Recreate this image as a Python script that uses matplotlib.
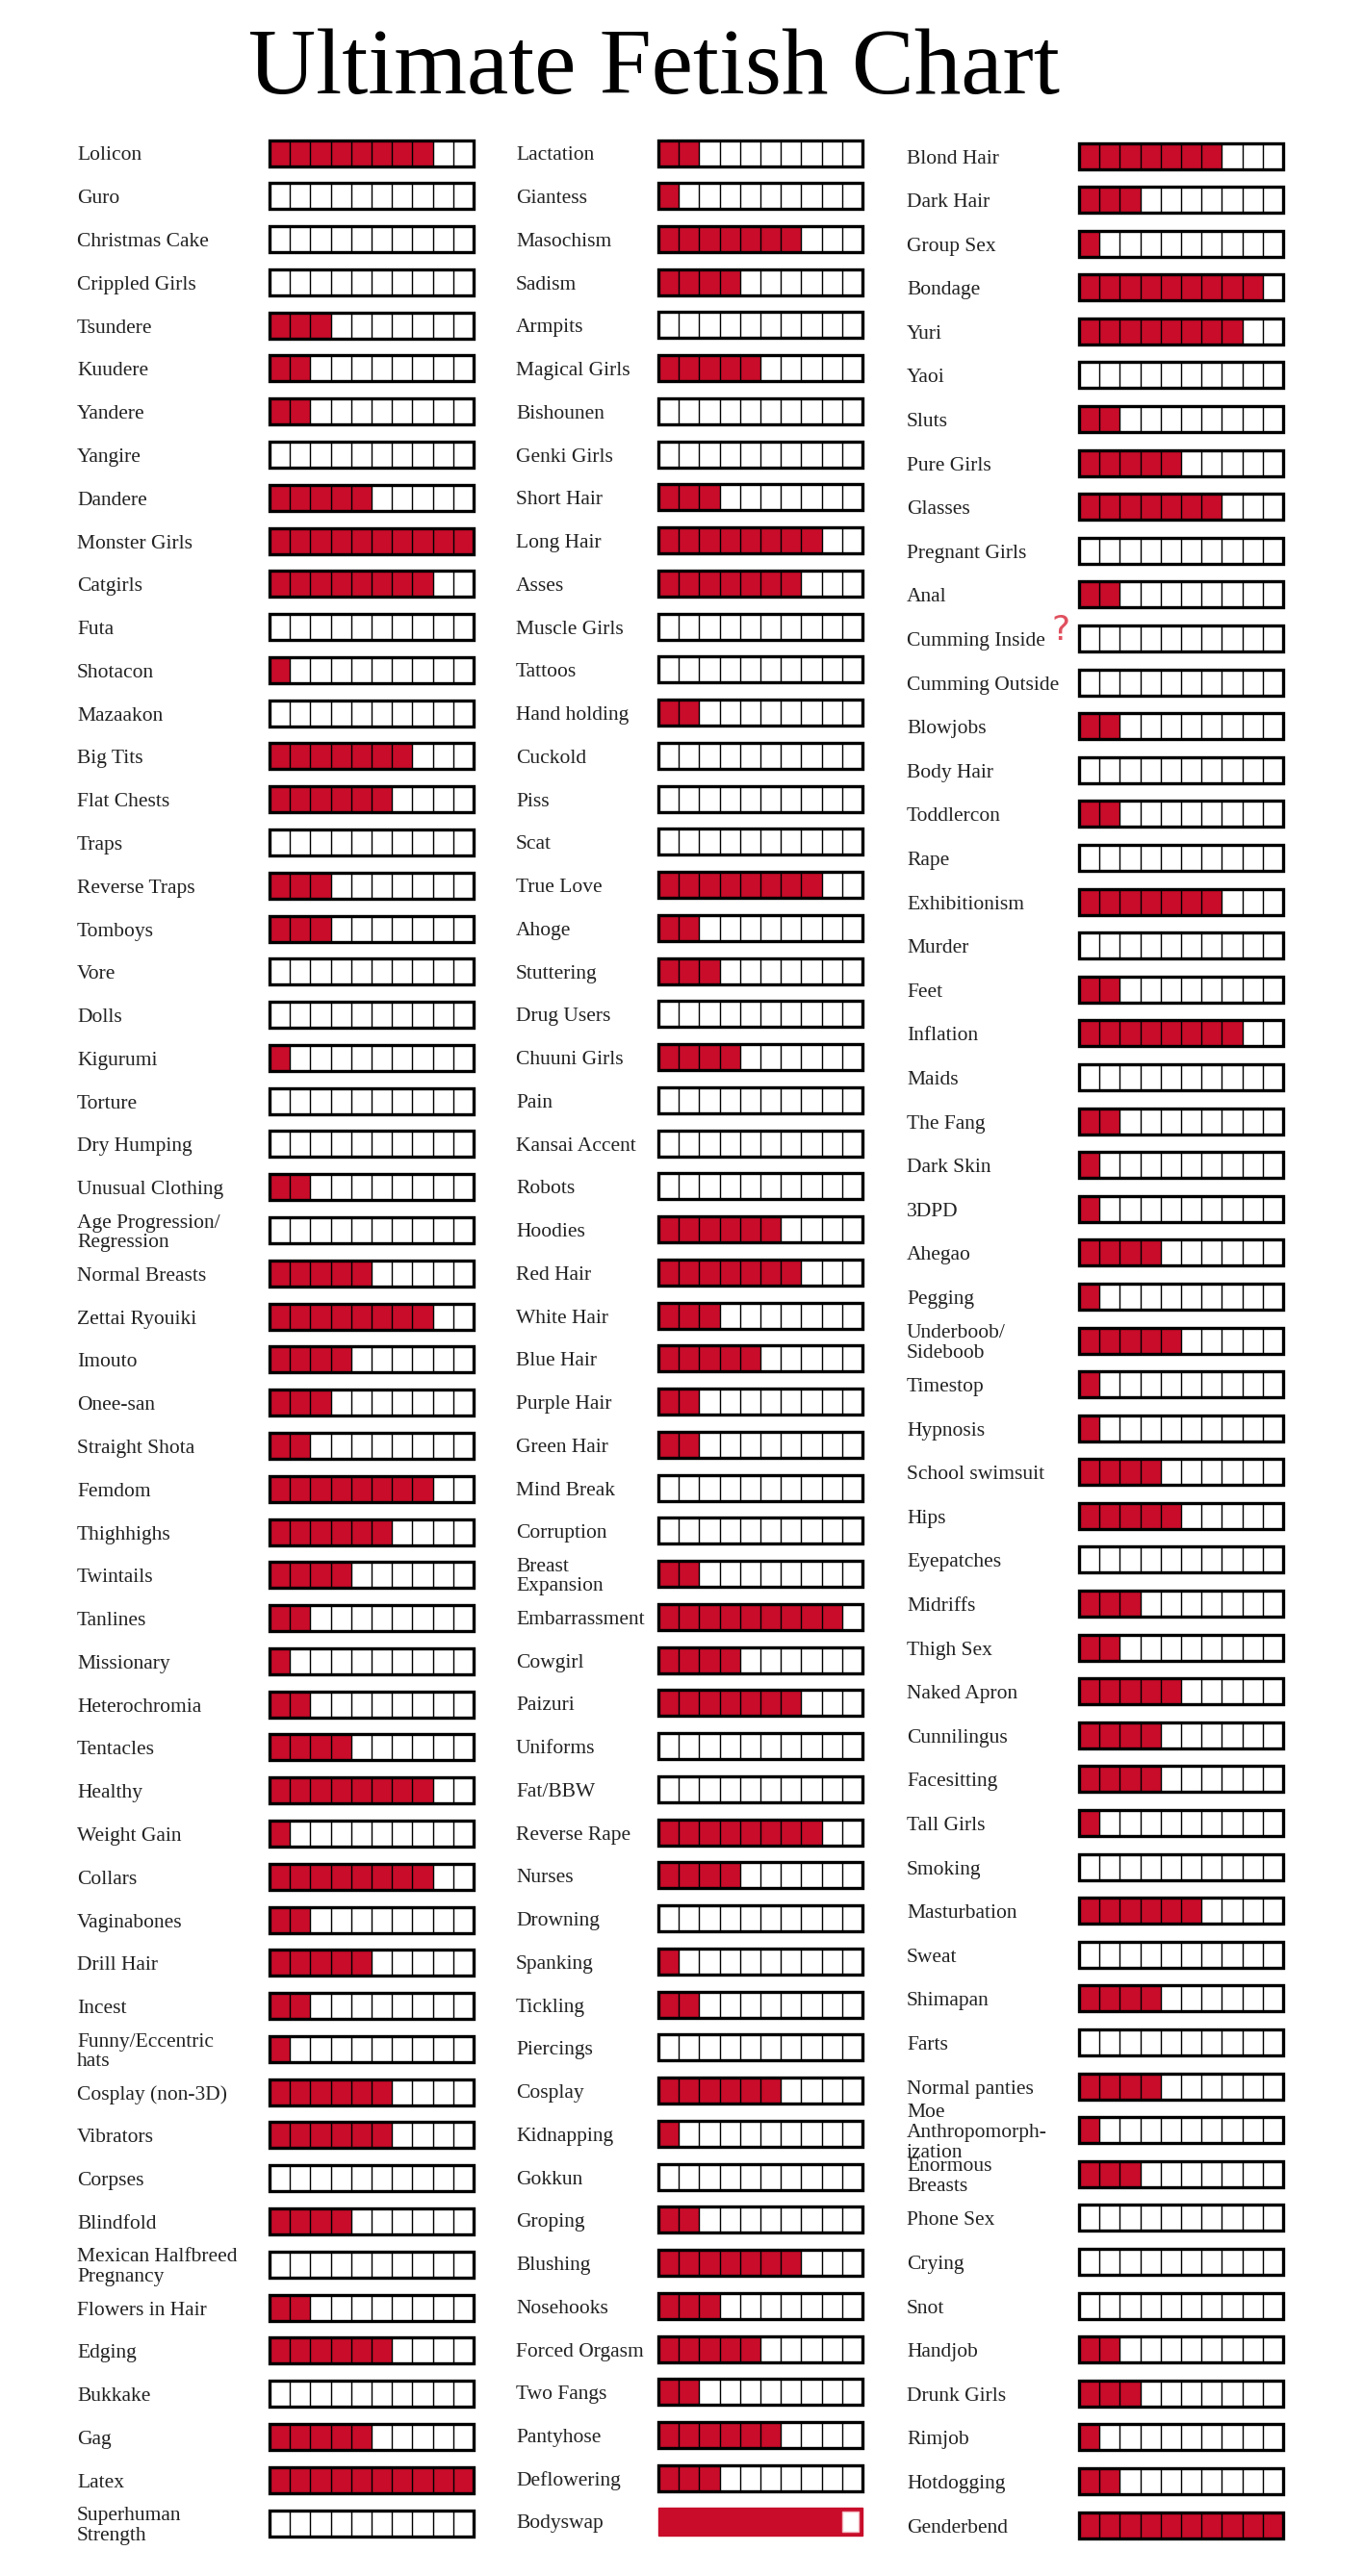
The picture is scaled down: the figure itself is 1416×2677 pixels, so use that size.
import matplotlib.pyplot as plt
import numpy as np

# ratings out of 10 cells
col1_labels = ["Lolicon", "Guro", "Christmas Cake", "Crippled Girls", "Tsundere", "Kuudere",
               "Yandere", "Yangire", "Dandere", "Monster Girls", "Catgirls", "Futa", "Shotacon",
               "Mazaakon", "Big Tits", "Flat Chests", "Traps", "Reverse Traps", "Tomboys", "Vore",
               "Dolls", "Kigurumi", "Torture", "Dry Humping", "Unusual Clothing",
               "Age Progression/\nRegression", "Normal Breasts", "Zettai Ryouiki", "Imouto",
               "Onee-san", "Straight Shota", "Femdom", "Thighhighs", "Twintails", "Tanlines",
               "Missionary", "Heterochromia", "Tentacles", "Healthy", "Weight Gain", "Collars",
               "Vaginabones", "Drill Hair", "Incest", "Funny/Eccentric\nhats", "Cosplay (non-3D)",
               "Vibrators", "Corpses", "Blindfold", "Mexican Halfbreed\nPregnancy",
               "Flowers in Hair", "Edging", "Bukkake", "Gag", "Latex", "Superhuman\nStrength"]
col1_values = [8, 0, 0, 0, 3, 2, 2, 0, 5, 10, 8, 0, 1, 0, 7, 6, 0, 3, 3, 0,
               0, 1, 0, 0, 2, 0, 5, 8, 4, 3, 2, 8, 6, 4, 2, 1, 2, 4, 8, 1,
               8, 2, 5, 2, 1, 6, 6, 0, 4, 0, 2, 6, 0, 5, 10, 0]

col2_labels = ["Lactation", "Giantess", "Masochism", "Sadism", "Armpits", "Magical Girls",
               "Bishounen", "Genki Girls", "Short Hair", "Long Hair", "Asses", "Muscle Girls",
               "Tattoos", "Hand holding", "Cuckold", "Piss", "Scat", "True Love", "Ahoge",
               "Stuttering", "Drug Users", "Chuuni Girls", "Pain", "Kansai Accent", "Robots",
               "Hoodies", "Red Hair", "White Hair", "Blue Hair", "Purple Hair", "Green Hair",
               "Mind Break", "Corruption", "Breast\nExpansion", "Embarrassment", "Cowgirl",
               "Paizuri", "Uniforms", "Fat/BBW", "Reverse Rape", "Nurses", "Drowning",
               "Spanking", "Tickling", "Piercings", "Cosplay", "Kidnapping", "Gokkun",
               "Groping", "Blushing", "Nosehooks", "Forced Orgasm", "Two Fangs", "Pantyhose",
               "Deflowering", "Bodyswap"]
col2_values = [2, 1, 7, 4, 0, 5, 0, 0, 3, 8, 7, 0, 0, 2, 0, 0, 0, 8, 2, 3,
               0, 4, 0, 0, 0, 6, 7, 3, 5, 2, 2, 0, 0, 2, 9, 4, 7, 0, 0, 8,
               4, 0, 1, 2, 0, 6, 1, 0, 2, 7, 3, 5, 2, 6, 3, 9]

col3_labels = ["Blond Hair", "Dark Hair", "Group Sex", "Bondage", "Yuri", "Yaoi", "Sluts",
               "Pure Girls", "Glasses", "Pregnant Girls", "Anal", "Cumming Inside",
               "Cumming Outside", "Blowjobs", "Body Hair", "Toddlercon", "Rape",
               "Exhibitionism", "Murder", "Feet", "Inflation", "Maids", "The Fang", "Dark Skin",
               "3DPD", "Ahegao", "Pegging", "Underboob/\nSideboob", "Timestop", "Hypnosis",
               "School swimsuit", "Hips", "Eyepatches", "Midriffs", "Thigh Sex", "Naked Apron",
               "Cunnilingus", "Facesitting", "Tall Girls", "Smoking", "Masturbation", "Sweat",
               "Shimapan", "Farts", "Normal panties", "Moe\nAnthropomorph-\nization",
               "Enormous\nBreasts", "Phone Sex", "Crying", "Snot", "Handjob", "Drunk Girls",
               "Rimjob", "Hotdogging", "Genderbend"]
col3_values = [7, 3, 1, 9, 8, 0, 2, 5, 7, 0, 2, 0, 0, 2, 0, 2, 0, 7, 0, 2,
               8, 0, 2, 1, 1, 4, 1, 5, 1, 1, 4, 5, 0, 3, 2, 5, 4, 4, 1, 0,
               6, 0, 4, 0, 4, 1, 3, 0, 0, 0, 2, 3, 1, 2, 10]

red_frame = {"Bodyswap"}

RED = '#c80c2a'
W, H = 1416, 2677
CELLS = 10
BAR_W = 212
BAR_H = 27

fig = plt.figure(figsize=(W / 100, H / 100), dpi=100)
ax = fig.add_axes([0, 0, 1, 1])
ax.set_xlim(0, W)
ax.set_ylim(H, 0)
ax.axis('off')

ax.text(679, 74, "Ultimate Fetish Chart", ha='center', va='center',
        fontsize=70, family='Liberation Serif', color='black')

# label x, bar x, first row y, last row y
layout = [
    (col1_labels, col1_values, 80, 280, 159, 2622),
    (col2_labels, col2_values, 536, 684, 159, 2620),
    (col3_labels, col3_values, 942, 1121, 162, 2624),
]

cw = BAR_W / CELLS
for labels, values, lx, bx, y0, y1 in layout:
    ys = np.linspace(y0, y1, len(labels))
    vals = np.array(values)
    normal = np.array([lab not in red_frame for lab in labels])

    yn = ys[normal]
    ax.barh(yn, BAR_W, left=bx, height=BAR_H, color='white', linewidth=0, zorder=1)
    ax.barh(yn, vals[normal] * cw, left=bx, height=BAR_H, color=RED, linewidth=0, zorder=2)
    xs = bx + cw * np.arange(1, CELLS)
    ax.vlines(np.tile(xs, len(yn)), np.repeat(yn - BAR_H / 2, CELLS - 1),
              np.repeat(yn + BAR_H / 2, CELLS - 1), color='black', linewidth=1.0, zorder=3)
    ax.barh(yn, BAR_W, left=bx, height=BAR_H, fill=False, edgecolor='black',
            linewidth=2.4, zorder=4)

    for y, v in zip(ys[~normal], vals[~normal]):
        ax.barh(y, BAR_W, left=bx, height=BAR_H + 2, color=RED, edgecolor=RED,
                linewidth=1, zorder=2)
        ax.barh(y, (CELLS - v) * cw - 4, left=bx + v * cw, height=BAR_H - 6,
                color='white', edgecolor='#f2b8c0', linewidth=1, zorder=3)

    for y, lab in zip(ys, labels):
        ax.text(lx, y + 3, lab, ha='left', va='center', fontsize=15.5,
                family='Liberation Serif', color='#222222', linespacing=1.12)

# hand-drawn question mark next to the cumming rows
ax.text(1102, 655, "?", ha='center', va='center', fontsize=26,
        family='DejaVu Sans', color='#e0505e')

fig.savefig('out.png', dpi=100, facecolor='white')
